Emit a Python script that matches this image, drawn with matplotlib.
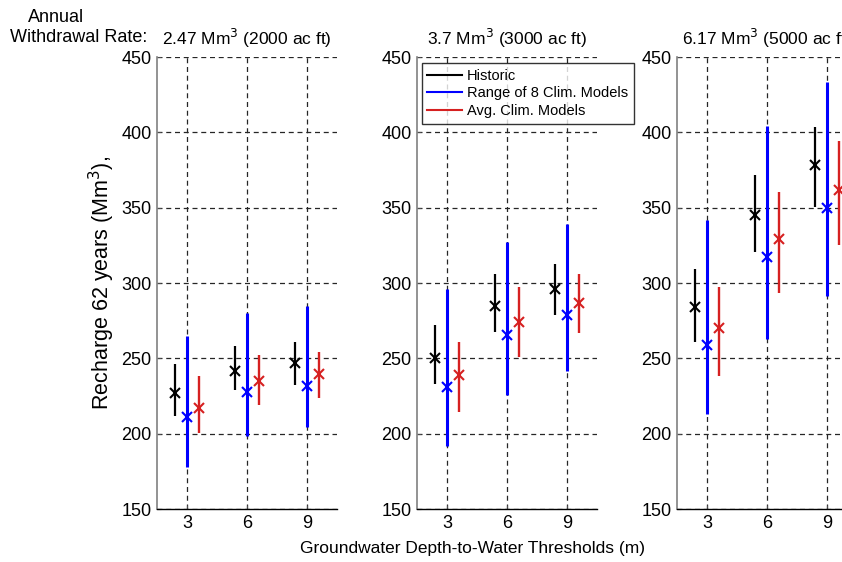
import matplotlib
matplotlib.use("Agg")
import matplotlib.pyplot as plt
import numpy as np

thresholds = [3, 6, 9]
panel_titles = ["2.47 Mm$^3$ (2000 ac ft)", "3.7 Mm$^3$ (3000 ac ft)", "6.17 Mm$^3$ (5000 ac ft)"]
series_names = ["Historic", "Range of 8 Clim. Models", "Avg. Clim. Models"]

# Panel 1 (2.47 Mm3)
p1_hist_mid = [226.8, 241.9, 246.7]
p1_hist_lo = [212.0, 228.8, 232.4]
p1_hist_hi = [246.1, 258.0, 261.0]
p1_rng_mid = [211.0, 227.7, 231.7]
p1_rng_lo = [178.0, 198.5, 204.7]
p1_rng_hi = [265.0, 280.0, 285.0]
p1_avg_mid = [217.0, 235.0, 239.4]
p1_avg_lo = [200.7, 219.0, 224.0]
p1_avg_hi = [238.0, 252.0, 254.0]

# Panel 2 (3.7 Mm3)
p2_hist_mid = [250.0, 285.0, 295.8]
p2_hist_lo = [233.0, 267.3, 278.8]
p2_hist_hi = [272.2, 306.0, 312.6]
p2_rng_mid = [230.8, 265.7, 278.6]
p2_rng_lo = [192.0, 225.7, 241.9]
p2_rng_hi = [295.8, 327.5, 339.0]
p2_avg_mid = [239.0, 274.4, 286.6]
p2_avg_lo = [214.7, 250.7, 266.6]
p2_avg_hi = [260.7, 297.2, 306.0]

# Panel 3 (6.17 Mm3)
p3_hist_mid = [284.3, 345.2, 378.3]
p3_hist_lo = [261.0, 320.8, 350.7]
p3_hist_hi = [309.5, 371.7, 403.3]
p3_rng_mid = [258.9, 317.5, 349.6]
p3_rng_lo = [212.9, 262.7, 291.4]
p3_rng_hi = [341.8, 404.2, 433.6]
p3_avg_mid = [270.4, 329.0, 361.7]
p3_avg_lo = [238.5, 293.6, 325.2]
p3_avg_hi = [297.2, 360.6, 394.3]

panels = [
    [(p1_hist_mid, p1_hist_lo, p1_hist_hi), (p1_rng_mid, p1_rng_lo, p1_rng_hi), (p1_avg_mid, p1_avg_lo, p1_avg_hi)],
    [(p2_hist_mid, p2_hist_lo, p2_hist_hi), (p2_rng_mid, p2_rng_lo, p2_rng_hi), (p2_avg_mid, p2_avg_lo, p2_avg_hi)],
    [(p3_hist_mid, p3_hist_lo, p3_hist_hi), (p3_rng_mid, p3_rng_lo, p3_rng_hi), (p3_avg_mid, p3_avg_lo, p3_avg_hi)],
]

colors = ["black", "#0000ff", "#d62020"]
offsets = [-0.6, 0.0, 0.6]
lws = [1.6, 2.2, 1.7]

plt.rcParams['font.family'] = ['Liberation Sans', 'DejaVu Sans']

W, H = 842, 562
fig = plt.figure(figsize=(W / 100, H / 100), dpi=100)

lefts = [157, 417, 677]
ax_w, ax_top, ax_bot = 180, 57, 509

axes = []
for i, left in enumerate(lefts):
    ax = fig.add_axes([left / W, 1 - ax_bot / H, ax_w / W, (ax_bot - ax_top) / H])
    axes.append(ax)
    handles = []
    for s, (mid, lo, hi) in enumerate(panels[i]):
        x = np.array(thresholds) + offsets[s]
        mid = np.array(mid); lo = np.array(lo); hi = np.array(hi)
        ax.errorbar(x, mid, yerr=[mid - lo, hi - mid], fmt='x', color=colors[s],
                    markersize=7, mew=1.5, elinewidth=lws[s], capsize=0, zorder=3)
        h, = ax.plot([], [], color=colors[s], lw=1.5, label=series_names[s])
        handles.append(h)
    ax.set_xlim(1.5, 10.5)
    ax.set_ylim(150, 450)
    ax.set_xticks(thresholds)
    ax.set_yticks(np.arange(150, 451, 50))
    ax.grid(True, color='0.15', linestyle=(0, (4, 3)), lw=0.9, zorder=0)
    ax.set_axisbelow(True)
    for sp in ['top', 'right']:
        ax.spines[sp].set_visible(False)
    ax.spines['left'].set_color('0.5')
    ax.spines['left'].set_linewidth(1.2)
    ax.spines['bottom'].set_color('black')
    ax.spines['bottom'].set_linewidth(1.0)
    ax.tick_params(direction='in', labelsize=13, length=3, colors='0.3', labelcolor='black', pad=4)
    ax.set_title(panel_titles[i], fontsize=12.5, pad=9)
    if i == 1:
        leg = ax.legend(handles=handles, loc='upper left', bbox_to_anchor=(0.025, 0.987),
                        prop={'size': 10.5}, frameon=True, fancybox=False, edgecolor='black',
                        handlelength=2.4, handletextpad=0.3, borderpad=0.4, labelspacing=0.25,
                        borderaxespad=0.0)
        leg.get_frame().set_linewidth(1.0)
        leg.set_zorder(5)

axes[0].set_ylabel("Recharge 62 years (Mm$^3$),", fontsize=15.5, labelpad=3)
fig.text(472 / W, 1 - 549 / H, "Groundwater Depth-to-Water Thresholds (m)", fontsize=12.5,
         ha='center', va='center')
fig.text(28 / W, 1 - 18 / H, "Annual", fontsize=13, ha='left', va='center')
fig.text(10 / W, 1 - 38 / H, "Withdrawal Rate:", fontsize=13, ha='left', va='center')

fig.savefig("out.png", dpi=100)
